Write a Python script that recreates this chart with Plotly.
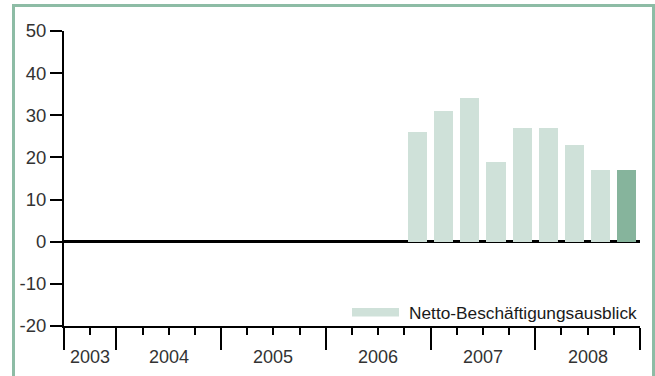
import plotly.graph_objects as go

# Quarterly net employment outlook (%), 2006 Q4 – 2008 Q4
quarters = ["2006 Q4", "2007 Q1", "2007 Q2", "2007 Q3", "2007 Q4",
            "2008 Q1", "2008 Q2", "2008 Q3", "2008 Q4"]
outlook = [26, 31, 34, 19, 27, 27, 23, 17, 17]
years = ["2003", "2004", "2005", "2006", "2007", "2008"]
y_ticks = [-20, -10, 0, 10, 20, 30, 40, 50]
y_ticktext = ["-20", "-10", "0", "10", "20", "30", "40", "50"]
legend_label = "Netto-Beschäftigungsausblick"

FIRST_YEAR, FIRST_Q = 2003, 3  # time axis starts at 2003 Q3


def q_index(label):
    y, q = label.split(" Q")
    return (int(y) - FIRST_YEAR) * 4 + int(q) - FIRST_Q


x_pos = [q_index(q) + 0.5 for q in quarters]
n_quarters = q_index("2008 Q4") + 1

# year boundaries and the middle of each year's span
year_starts = [max(0, q_index(f"{y} Q1")) for y in years]
year_ends = year_starts[1:] + [n_quarters]
year_mid = [(a + b) / 2 for a, b in zip(year_starts, year_ends)]
major_ticks = [0] + year_ends

LIGHT = "#cfe1d9"
DARK = "#86b49c"
FRAME = "#8dbca5"
TEXT = "#333333"
FONT = "Liberation Sans, Arial, sans-serif"

colors = [LIGHT] * (len(outlook) - 1) + [DARK]

fig = go.Figure(go.Bar(
    x=x_pos, y=outlook, width=0.73,
    marker=dict(color=colors, line=dict(width=0)),
    name=legend_label, showlegend=False,
    customdata=quarters, hovertemplate="%{customdata}: %{y}<extra></extra>",
))

W, H = 655, 376
L, R, T, B = 64, 15, 31, 50
pw, ph = W - L - R, H - T - B


def px_x(p):
    return (p - L) / pw


def px_y(p):
    return (H - B - p) / ph


annotations = [
    dict(x=m, y=-20, xref="x", yref="y", text=y, showarrow=False,
         yanchor="middle", yshift=-31, font=dict(size=18, color=TEXT, family=FONT))
    for m, y in zip(year_mid, years)
]
annotations.append(dict(
    x=px_x(408), y=px_y(312.5), xref="paper", yref="paper", text=legend_label,
    showarrow=False, xanchor="left", yanchor="middle", xshift=-1,
    font=dict(size=17.3, color="#1a1a1a", family=FONT),
))

shapes = [
    # legend swatch
    dict(type="rect", xref="paper", yref="paper",
         x0=px_x(352), x1=px_x(399), y0=px_y(316.5), y1=px_y(308),
         fillcolor=LIGHT, line=dict(width=0)),
    # outer frame
    dict(type="rect", xref="paper", yref="paper",
         x0=px_x(13.5), x1=px_x(653.5), y0=px_y(390), y1=px_y(5.5),
         fillcolor="rgba(0,0,0,0)", line=dict(color=FRAME, width=3), layer="below"),
]

fig.update_layout(
    width=W, height=H,
    margin=dict(l=L, r=R, t=T, b=B, pad=0),
    paper_bgcolor="white", plot_bgcolor="white",
    font=dict(family=FONT, size=18, color=TEXT),
    xaxis=dict(
        range=[0, n_quarters], showgrid=False, zeroline=False,
        showline=True, linecolor="black", linewidth=2,
        tickmode="array", tickvals=major_ticks, showticklabels=False,
        ticks="outside", ticklen=22, tickwidth=2, tickcolor="black",
        minor=dict(dtick=1, tick0=0, ticks="outside", ticklen=7,
                   tickwidth=2, tickcolor="black", showgrid=False),
    ),
    yaxis=dict(
        range=[-20, 50], showgrid=False,
        tickmode="array", tickvals=y_ticks, ticktext=y_ticktext,
        zeroline=True, zerolinecolor="black", zerolinewidth=2.5,
        showline=True, linecolor="black", linewidth=2,
        ticks="outside", ticklen=12, tickwidth=2, tickcolor="black",
        tickfont=dict(size=18.5, color=TEXT, family=FONT),
        ticklabelstandoff=0,
    ),
    annotations=annotations, shapes=shapes,
    bargap=0,
)

fig.write_html("out.html")
